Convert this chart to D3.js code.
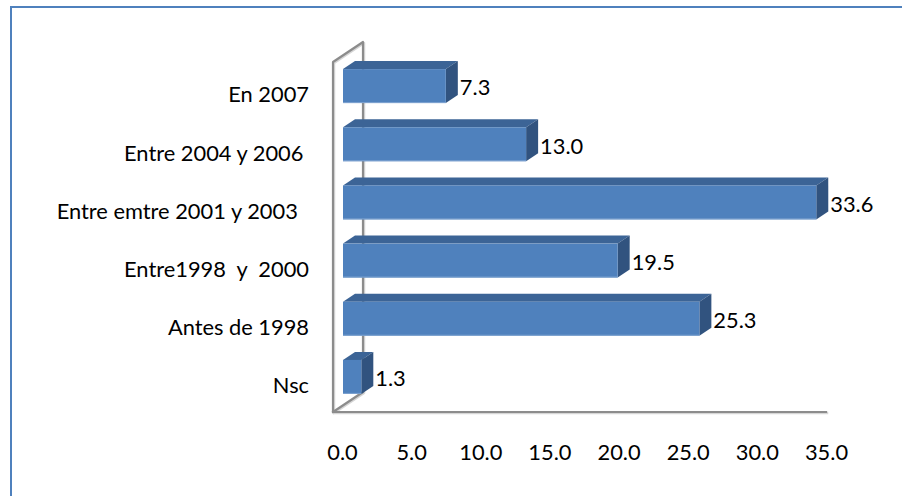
<!DOCTYPE html>
<html><head><meta charset="utf-8">
<script src="https://cdn.jsdelivr.net/npm/d3@7"></script>
<style>
html,body{margin:0;padding:0;background:#fff;}
svg{display:block;font-family:Lato,"Liberation Sans",sans-serif;}
</style></head>
<body>
<svg id="c" width="902" height="496"></svg>
<script>
const categories = ["En 2007", "Entre 2004 y 2006\u00a0", "Entre emtre 2001 y 2003\u00a0\u00a0", "Entre1998\u00a0\u00a0y\u00a0\u00a02000", "Antes de 1998", "Nsc"];
const values = [7.3, 13.0, 33.6, 19.5, 25.3, 1.3];
const tickValues = [0, 5, 10, 15, 20, 25, 30, 35];

const FS = 21, SX = 1.04;
const svg = d3.select("#c");
// frame border (extends past right/bottom edge)
svg.append("path").attr("d","M11,497 L11,7 L903,7")
  .attr("fill","none").attr("stroke","#4F81BD").attr("stroke-width",2);

const depth = {dx: 12, dy: -8};
const wall = {dx: 30, dy: -20};
const xBar = d3.scaleLinear().domain([0,35]).range([343, 836]);
const xAxisS = d3.scaleLinear().domain([0,35]).range([342, 826]);
const y = d3.scaleBand().domain(categories).range([57, 406]).paddingInner(0.416).paddingOuter(0.208);

const floorY = 412, frontX = 333;
const axisCol = "#8c8c8c";
const wallG = svg.append("g").attr("fill","none").attr("stroke-linecap","square");
function wallLines(col, w, off){
  wallG.append("path")
    .attr("d", `M${frontX+off},${floorY+off} L${frontX+off},${62+off} L${frontX+wall.dx+off},${62+wall.dy+off} L${frontX+wall.dx+off},${floorY+wall.dy+off} L${frontX+off},${floorY+off} M${frontX+off},${floorY+off} L${xAxisS(35)+off},${floorY+off}`)
    .attr("stroke", col).attr("stroke-width", w).attr("stroke-linejoin","round");
}
wallLines("#d6d6d6", 2.5, 1);
wallLines(axisCol, 2.2, 0);

function stretchedText(g, x, yy, txt, anchor){
  return g.append("text")
    .attr("transform", `translate(${x},${yy}) scale(${SX},1)`)
    .attr("dy","0.35em").attr("text-anchor", anchor)
    .attr("font-size", FS).attr("fill","#000")
    .style("white-space","pre").text(txt);
}

const bars = svg.append("g").selectAll("g").data(categories).join("g");
bars.each(function(c,i){
  const g = d3.select(this);
  const x0 = xBar(0), x1 = xBar(values[i]);
  const yt = y(c), yb = y(c) + y.bandwidth();
  const dx = depth.dx, dy = depth.dy;
  g.append("path").attr("d", `M${x0},${yt} L${x0+dx},${yt+dy} L${x1+dx},${yt+dy} L${x1},${yt} Z`).attr("fill","#3c6496");
  g.append("path").attr("d", `M${x1},${yt} L${x1+dx},${yt+dy} L${x1+dx},${yb+dy} L${x1},${yb} Z`).attr("fill","#31537f");
  g.append("rect").attr("x", x0).attr("y", yt).attr("width", x1-x0).attr("height", yb-yt).attr("fill","#4f81bd");
  g.append("line").attr("x1",x0).attr("x2",x1).attr("y1",yb-0.5).attr("y2",yb-0.5).attr("stroke","#7ea3d0").attr("stroke-width",1);
  stretchedText(g, x1+dx+2, (yt+yb)/2+2, values[i].toFixed(1), "start");
});

const catG = svg.append("g");
categories.forEach(c => stretchedText(catG, 309, y(c)+y.bandwidth()/2+9, c, "end"));

// x axis labels
const ax = svg.append("g").attr("transform",`translate(0,${floorY})`)
  .call(d3.axisBottom(xAxisS).tickValues(tickValues).tickFormat(d3.format(".1f")).tickSize(0).tickPadding(0));
ax.select(".domain").remove();
ax.selectAll(".tick text").attr("y", 41).attr("dy","0.35em")
  .attr("transform",`scale(${SX},1)`)
  .attr("font-size",FS).attr("fill","#000").attr("font-family","Lato, 'Liberation Sans', sans-serif");
</script>
</body></html>
